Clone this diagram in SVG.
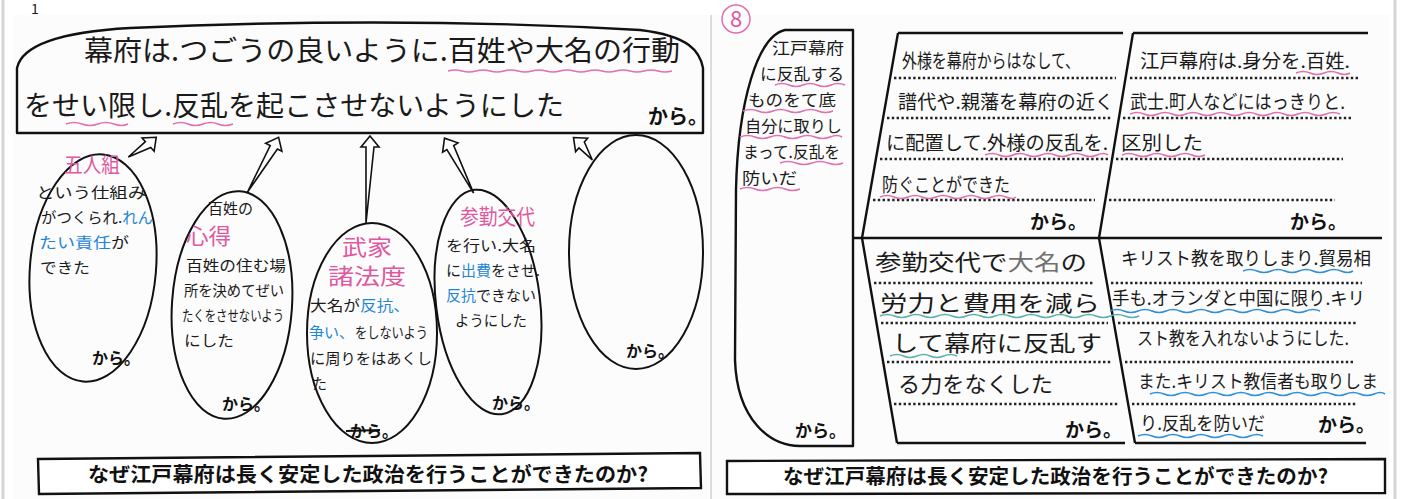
<svg xmlns="http://www.w3.org/2000/svg" width="1402" height="499" viewBox="0 0 1402 499">
<style>
.sheet{fill:#fcfcfc}
.ln{fill:none;stroke:#111;stroke-width:2.4;stroke-linejoin:round}
.el{fill:none;stroke:#111;stroke-width:2}
.hw{font-family:"Noto Sans CJK JP",sans-serif;fill:#1a1a1a}
.pk{fill:#e0589f}
.bl{fill:#1f86d6}
.gr{fill:#707070}
.kara{font-family:"Noto Sans CJK JP",sans-serif;font-weight:700;fill:#111}
.q{font-family:"Noto Sans CJK JP",sans-serif;font-weight:700;font-size:20px;fill:#111}
.dot{stroke:#222;stroke-width:2.6;stroke-dasharray:2.4 2.4;fill:none}
.wp{fill:none;stroke:#e070b0;stroke-width:1.6}
.wb{fill:none;stroke:#2f8fd8;stroke-width:1.6}
.wt{fill:none;stroke:#5eb0b0;stroke-width:1.6}
.arrow{fill:#fff;stroke:#111;stroke-width:1.6;stroke-linejoin:miter}
.qbox{fill:#fff;stroke:#111;stroke-width:2.4}
</style>
<rect x="0" y="0" width="1402" height="499" fill="#ffffff"/>
<rect class="sheet" x="13" y="15" width="695" height="484"/>
<rect class="sheet" x="712" y="15" width="678" height="484"/>
<line x1="3" y1="0" x2="3" y2="499" stroke="#d4d4d4" stroke-width="3"/>
<line x1="1395" y1="0" x2="1395" y2="499" stroke="#d4d4d4" stroke-width="3"/>
<line x1="711" y1="15" x2="711" y2="499" stroke="#dcdcdc" stroke-width="2"/>

<!-- LEFT SHEET -->
<text class="hw" x="31" y="14" font-size="14">1</text>

<g id="node-conclusion">
<path class="ln" d="M17,133 L17,68 C22,45 60,32 130,28 Q400,16 640,30 C690,36 700,52 703,68 L703,133 Z"/>
<text class="hw" x="84" y="61" font-size="28" textLength="596" lengthAdjust="spacingAndGlyphs">幕府は.つごうの良いように.百姓や大名の行動</text>
<text class="hw" x="24" y="116" font-size="28" textLength="540" lengthAdjust="spacingAndGlyphs">をせい限し.反乱を起こさせないようにした</text>
<text class="kara" x="648" y="124" font-size="20">から。</text>
<path class="wp" d="M448,71 q7,-2 14,0 t14,0 t14,0 t14,0 t14,0 t14,0 t14,0 t14,0 t14,0 t14,0 t14,0 t14,0 t14,0 t14,0 t14,0 t14,0"/>
<path class="wp" d="M66,124 q8,-3 16,0 t16,0 t16,0 t14,0"/>
<path class="wp" d="M173,124 q8,-3 15,0 t15,0 t15,0 t15,0"/>
</g>

<g id="connectors">
<path class="arrow" transform="translate(131,160) rotate(48)" d="M-4,0 V-23 H-9 L0,-34 L9,-23 H4 Z"/>
<path class="arrow" transform="translate(251,194) rotate(26)" d="M-4,0 V-52 H-9 L0,-63 L9,-52 H4 Z"/>
<path class="arrow" transform="translate(370,223)" d="M-4,0 V-76 H-9 L0,-87 L9,-76 H4 Z"/>
<path class="arrow" transform="translate(477,191) rotate(-31.6)" d="M-4,0 V-51 H-9 L0,-62 L9,-51 H4 Z"/>
<path class="arrow" transform="translate(595,157) rotate(-47.9)" d="M-4,0 V-18 H-9 L0,-29 L9,-18 H4 Z"/>
</g>

<g id="node-goningumi">
<ellipse class="el" cx="93" cy="268" rx="63" ry="114" transform="rotate(5 93 268)"/>
<text class="hw pk" x="64" y="172" font-size="21" textLength="56" lengthAdjust="spacingAndGlyphs">五人組</text>
<text class="hw" x="36" y="198" font-size="15" textLength="110" lengthAdjust="spacingAndGlyphs">という仕組み</text>
<text class="hw" x="41" y="223" font-size="15" textLength="112" lengthAdjust="spacingAndGlyphs">がつくられ.<tspan class="bl">れん</tspan></text>
<text class="hw" x="39" y="248" font-size="15" textLength="90" lengthAdjust="spacingAndGlyphs"><tspan class="bl">たい責任</tspan>が</text>
<text class="hw" x="40" y="273" font-size="15" textLength="50" lengthAdjust="spacingAndGlyphs">できた</text>
<text class="kara" x="92" y="364" font-size="16">から。</text>
</g>

<g id="node-kokoroe">
<ellipse class="el" cx="232" cy="305" rx="60" ry="114" transform="rotate(4 232 305)"/>
<text class="hw" x="208" y="214" font-size="15" textLength="45" lengthAdjust="spacingAndGlyphs">百姓の</text>
<text class="hw pk" x="186" y="244" font-size="22" textLength="45" lengthAdjust="spacingAndGlyphs">心得</text>
<text class="hw" x="186" y="271" font-size="15" textLength="100" lengthAdjust="spacingAndGlyphs">百姓の住む場</text>
<text class="hw" x="184" y="296" font-size="15" textLength="100" lengthAdjust="spacingAndGlyphs">所を決めてぜい</text>
<text class="hw" x="182" y="321" font-size="15" textLength="102" lengthAdjust="spacingAndGlyphs">たくをさせないよう</text>
<text class="hw" x="184" y="346" font-size="15" textLength="50" lengthAdjust="spacingAndGlyphs">にした</text>
<text class="kara" x="222" y="410" font-size="16">から。</text>
</g>

<g id="node-bukeshohatto">
<ellipse class="el" cx="372" cy="333" rx="65" ry="110"/>
<text class="hw pk" x="342" y="255" font-size="22" textLength="50" lengthAdjust="spacingAndGlyphs">武家</text>
<text class="hw pk" x="328" y="284" font-size="22" textLength="78" lengthAdjust="spacingAndGlyphs">諸法度</text>
<text class="hw" x="310" y="311" font-size="15" textLength="100" lengthAdjust="spacingAndGlyphs">大名が<tspan class="bl">反抗、</tspan></text>
<text class="hw bl" x="309" y="338" font-size="15">争い、</text>
<text class="hw" x="355" y="338" font-size="15" textLength="73" lengthAdjust="spacingAndGlyphs">をしないよう</text>
<text class="hw" x="310" y="364" font-size="15" textLength="122" lengthAdjust="spacingAndGlyphs">に周りをはあくし</text>
<text class="hw" x="312" y="389" font-size="15">た</text>
<text class="kara" x="350" y="437" font-size="16">から。</text>
<line x1="346" y1="431" x2="380" y2="430" stroke="#111" stroke-width="1.8"/>
</g>

<g id="node-sankin">
<ellipse class="el" cx="488" cy="302" rx="52" ry="113" transform="rotate(-7 488 302)"/>
<text class="hw pk" x="460" y="224" font-size="21" textLength="75" lengthAdjust="spacingAndGlyphs">参勤交代</text>
<text class="hw" x="446" y="251" font-size="15" textLength="90" lengthAdjust="spacingAndGlyphs">を行い.大名</text>
<text class="hw" x="446" y="276" font-size="15" textLength="94" lengthAdjust="spacingAndGlyphs">に<tspan class="bl">出費</tspan>をさせ.</text>
<text class="hw" x="446" y="301" font-size="15" textLength="90" lengthAdjust="spacingAndGlyphs"><tspan class="bl">反抗</tspan>できない</text>
<text class="hw" x="455" y="326" font-size="15" textLength="72" lengthAdjust="spacingAndGlyphs">ようにした</text>
<text class="kara" x="492" y="409" font-size="16">から。</text>
</g>

<g id="node-blank">
<ellipse class="el" cx="636" cy="252" rx="67" ry="117"/>
<text class="kara" x="626" y="357" font-size="16">から。</text>
</g>

<g id="question-left">
<polygon class="qbox" points="38,459 700,453 701,488 39,494"/>
<text class="q" x="88" y="482" textLength="560" lengthAdjust="spacingAndGlyphs">なぜ江戸幕府は長く安定した政治を行うことができたのか?</text>
</g>

<!-- RIGHT SHEET -->
<g id="number-8">
<circle cx="736" cy="19" r="14" fill="none" stroke="#e070b0" stroke-width="1.5"/>
<text class="hw pk" x="736" y="27" font-size="22" text-anchor="middle">8</text>
</g>

<g id="node-left-panel">
<path class="ln" d="M853,30 L785,30 C758,36 738,100 736,190 L735,360 C737,420 770,446 800,446 L853,446 Z"/>
<text class="hw" x="772" y="54" font-size="16" textLength="72" lengthAdjust="spacingAndGlyphs">江戸幕府</text>
<text class="hw" x="760" y="80" font-size="16" textLength="84" lengthAdjust="spacingAndGlyphs">に反乱する</text>
<text class="hw" x="748" y="106" font-size="16" textLength="88" lengthAdjust="spacingAndGlyphs">ものをて底</text>
<text class="hw" x="745" y="132" font-size="16" textLength="97" lengthAdjust="spacingAndGlyphs">自分に取りし</text>
<text class="hw" x="743" y="158" font-size="16" textLength="97" lengthAdjust="spacingAndGlyphs">まって.反乱を</text>
<text class="hw" x="742" y="184" font-size="16" textLength="55" lengthAdjust="spacingAndGlyphs">防いだ</text>
<path class="wp" d="M775,85 q7,-3 14,0 t14,0 t14,0 t14,0 t14,0"/>
<path class="wp" d="M743,111 q7.5,-3 15,0 t15,0 t15,0 t15,0 t15,0 t15,0"/>
<path class="wp" d="M740,137 q7.5,-3 15,0 t15,0 t15,0 t15,0 t15,0 t15,0 t12,0"/>
<path class="wp" d="M780,163 q8,-3 16,0 t16,0 t16,0 t15,0"/>
<path class="wp" d="M740,189 q7.5,-3 15,0 t15,0 t15,0 t15,0"/>
<text class="kara" x="795" y="437" font-size="17">から。</text>
</g>

<g id="frame-cells">
<path class="ln" d="M898,33 L862,238 L897,443"/>
<path class="ln" d="M1133,33 L1099,238 L1135,443"/>
<path class="ln" d="M898,33 H1123 M1133,33 H1368"/>
<path class="ln" d="M853,238 H1382"/>
<path class="ln" d="M897,443 H1125 M1135,443 H1366"/>
</g>

<g id="node-tozama">
<path class="dot" d="M894,78 H1116 M887,118 H1112 M880,159 H1110 M873,200 H1095"/>
<text class="hw" x="902" y="68" font-size="19" textLength="178" lengthAdjust="spacingAndGlyphs">外様を幕府からはなして、</text>
<text class="hw" x="898" y="109" font-size="19" textLength="216" lengthAdjust="spacingAndGlyphs">譜代や.親藩を幕府の近く</text>
<text class="hw" x="886" y="150" font-size="19" textLength="222" lengthAdjust="spacingAndGlyphs">に配置して.外様の反乱を.</text>
<text class="hw" x="882" y="192" font-size="19" textLength="128" lengthAdjust="spacingAndGlyphs">防ぐことができた</text>
<path class="wp" d="M985,155 q7,-3 14,0 t14,0 t14,0 t14,0 t14,0 t14,0 t14,0 t14,0 t11,0"/>
<path class="wp" d="M880,197 q7,-3 14,0 t14,0 t14,0 t14,0 t14,0 t14,0 t14,0 t14,0 t14,0 t10,0"/>
<text class="kara" x="1030" y="229" font-size="19">から。</text>
</g>

<g id="node-mibun">
<path class="dot" d="M1130,78 H1360 M1123,118 H1352 M1116,159 H1343 M1109,200 H1335"/>
<text class="hw" x="1140" y="68" font-size="19" textLength="210" lengthAdjust="spacingAndGlyphs">江戸幕府は.身分を.百姓.</text>
<text class="hw" x="1130" y="109" font-size="19" textLength="215" lengthAdjust="spacingAndGlyphs">武士.町人などにはっきりと.</text>
<text class="hw" x="1121" y="150" font-size="19" textLength="82" lengthAdjust="spacingAndGlyphs">区別した</text>
<path class="wp" d="M1296,73 q7,-3 14,0 t14,0 t14,0 t12,0"/>
<path class="wp" d="M1130,114 q7,-3 14,0 t14,0 t14,0 t14,0 t14,0 t14,0 t14,0 t14,0 t14,0 t14,0 t14,0 t14,0 t14,0 t14,0 t14,0"/>
<path class="wp" d="M1122,155 q7,-3 14,0 t14,0 t14,0 t14,0 t14,0 t13,0"/>
<text class="kara" x="1290" y="229" font-size="19">から。</text>
</g>

<g id="node-sankin-kotai">
<path class="dot" d="M874,283 H1093 M881,323 H1108 M887,362 H1112 M894,404 H1118"/>
<text class="hw" x="875" y="270" font-size="22" textLength="212" lengthAdjust="spacingAndGlyphs">参勤交代で<tspan class="gr">大名</tspan>の</text>
<text class="hw" x="880" y="311" font-size="22" textLength="220" lengthAdjust="spacingAndGlyphs">労力と費用を減ら</text>
<text class="hw" x="892" y="351" font-size="22" textLength="210" lengthAdjust="spacingAndGlyphs">して幕府に反乱す</text>
<text class="hw" x="898" y="392" font-size="22" textLength="155" lengthAdjust="spacingAndGlyphs">る力をなくした</text>
<path class="wt" d="M880,316 q7,-3 14.4,0 t14.4,0 t14.4,0 t14.4,0 t14.4,0 t14.4,0 t14.4,0 t14.4,0 t14.4,0 t14.4,0 t14.4,0 t14.4,0 t14.4,0 t14.4,0 t14.4,0 t14.4,0 t14.4,0 t14.4,0"/>
<path class="wt" d="M890,356 q7,-3 13.4,0 t13.4,0 t13.4,0 t13.4,0 t13.4,0"/>
<text class="kara" x="1065" y="437" font-size="19">から。</text>
</g>

<g id="node-kirisuto">
<path class="dot" d="M1111,283 H1362 M1118,323 H1358 M1125,362 H1353 M1132,404 H1357"/>
<text class="hw" x="1121" y="265" font-size="18" textLength="250" lengthAdjust="spacingAndGlyphs">キリスト教を取りしまり.貿易相</text>
<text class="hw" x="1112" y="305" font-size="18" textLength="253" lengthAdjust="spacingAndGlyphs">手も.オランダと中国に限り.キリ</text>
<text class="hw" x="1137" y="345" font-size="18" textLength="212" lengthAdjust="spacingAndGlyphs">スト教を入れないようにした.</text>
<text class="hw" x="1138" y="388" font-size="18" textLength="240" lengthAdjust="spacingAndGlyphs">また.キリスト教信者も取りしま</text>
<text class="hw" x="1140" y="430" font-size="18" textLength="125" lengthAdjust="spacingAndGlyphs">り.反乱を防いだ</text>
<path class="wb" d="M1243,271 q7,-3 14,0 t14,0 t14,0 t14,0 t14,0 t14,0 t14,0 t12,0"/>
<path class="wb" d="M1110,311 q7,-3 14,0 t14,0 t14,0 t14,0 t14,0 t14,0 t14,0 t14,0 t14,0 t14,0 t14,0 t14,0 t14,0 t14,0 t14,0"/>
<path class="wb" d="M1150,394 q7,-3 14,0 t14,0 t14,0 t14,0 t14,0 t14,0 t14,0 t14,0 t14,0 t14,0 t14,0 t14,0 t14,0 t14,0 t14,0 t14,0 t11,0"/>
<path class="wb" d="M1138,436 q7,-3 14,0 t14,0 t14,0 t14,0 t14,0 t14,0 t14,0 t14,0 t13,0"/>
<text class="kara" x="1318" y="432" font-size="19">から。</text>
</g>

<g id="question-right">
<polygon class="qbox" points="727,461 1385,459 1385,493 727,494"/>
<text class="q" x="783" y="484" textLength="545" lengthAdjust="spacingAndGlyphs">なぜ江戸幕府は長く安定した政治を行うことができたのか?</text>
</g>
</svg>
